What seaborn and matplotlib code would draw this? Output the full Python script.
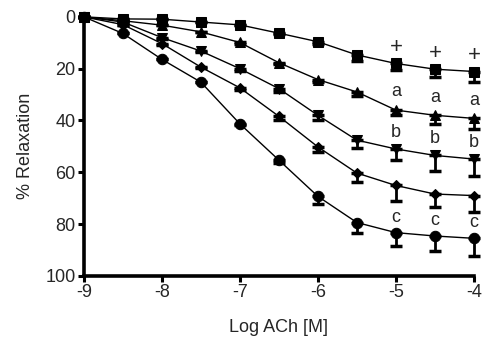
import numpy as np
import pandas as pd
import seaborn as sns
import matplotlib.pyplot as plt

log_ach = [-9, -8.5, -8, -7.5, -7, -6.5, -6, -5.5, -5, -4.5, -4]

squares = [0, 0.8, 0.9, 2, 3.1, 6.3, 9.6, 14.7, 18, 20.2, 21.1]
squares_err = [0, 0, 0, 0, 0, 0.5, 1, 2.5, 2.7, 3.2, 4]
tri_up = [0, 1.5, 3.2, 5.8, 9.9, 17.7, 24.2, 29, 36, 38, 39.2]
tri_up_err = [0, 0, 0, 0, 0.5, 0.5, 1, 1.5, 2, 3.2, 4.2]
tri_down = [0, 2, 8, 13.2, 20, 27.7, 38, 47.6, 51, 53.5, 54.9]
tri_down_err = [0, 0, 0.5, 0.5, 1, 1.5, 2, 3.2, 4.3, 6, 6.5]
diamonds = [0, 3, 10.3, 19.4, 27.4, 38.4, 50.2, 60.3, 65.1, 68.4, 69]
diamonds_err = [0, 0, 0.5, 0.5, 1, 1.5, 2, 3.5, 5.8, 5.2, 6.5]
circles = [0, 6.4, 16.4, 25.2, 41.3, 55.3, 69.3, 79.4, 83.3, 84.6, 85.5]
circles_err = [0, 0, 0, 0, 0.5, 1, 2.9, 3.9, 5, 5.8, 6.8]

series = [
    (squares, squares_err, "s", 6.5),
    (tri_up, tri_up_err, "^", 7.5),
    (tri_down, tri_down_err, "v", 7.5),
    (diamonds, diamonds_err, "D", 5),
    (circles, circles_err, "o", 7.5),
]

# significance marks: (label, series, offset above point, font size)
sig_x = [-5, -4.5, -4]
sig_marks = [("+", squares, 6, 16), ("a", tri_up, 7, 13),
             ("b", tri_down, 6.5, 13), ("c", circles, 6, 13)]

sns.set_style("ticks")
plt.rcParams['font.family'] = ['Liberation Sans', 'DejaVu Sans']
plt.rcParams['axes.unicode_minus'] = False

fig = plt.figure(figsize=(5.02, 3.51), dpi=100)
ax = fig.add_axes([0.167, 0.214, 0.777, 0.738])

for vals, errs, mk, ms in series:
    df = pd.DataFrame({"x": log_ach, "y": vals})
    sns.lineplot(data=df, x="x", y="y", ax=ax, color="black", linewidth=1,
                 marker=mk, markersize=ms, markeredgecolor="black", clip_on=False)
    low = np.zeros(len(errs))
    ax.errorbar(log_ach, vals, yerr=[low, errs], fmt="none", ecolor="black",
                elinewidth=2, capsize=4, capthick=2.5, clip_on=False)

for label, vals, off, fs in sig_marks:
    for x in sig_x:
        y = vals[log_ach.index(x)]
        ax.text(x, y - off, label, ha="center", va="center", fontsize=fs)

ax.set_xlim(-9, -4)
ax.set_ylim(100, 0)
ax.set_xticks([-9, -8, -7, -6, -5, -4])
ax.set_yticks([0, 20, 40, 60, 80, 100])
ax.set_xlabel("Log ACh [M]", fontsize=13, labelpad=13)
ax.set_ylabel("% Relaxation", fontsize=13, labelpad=8)
ax.tick_params(labelsize=13, width=2.2, length=4.5, color="black", pad=1.5)
for side in ["left", "bottom"]:
    ax.spines[side].set_linewidth(2.6)
    ax.spines[side].set_color("black")
sns.despine(ax=ax)

fig.savefig("out.png", dpi=100)
